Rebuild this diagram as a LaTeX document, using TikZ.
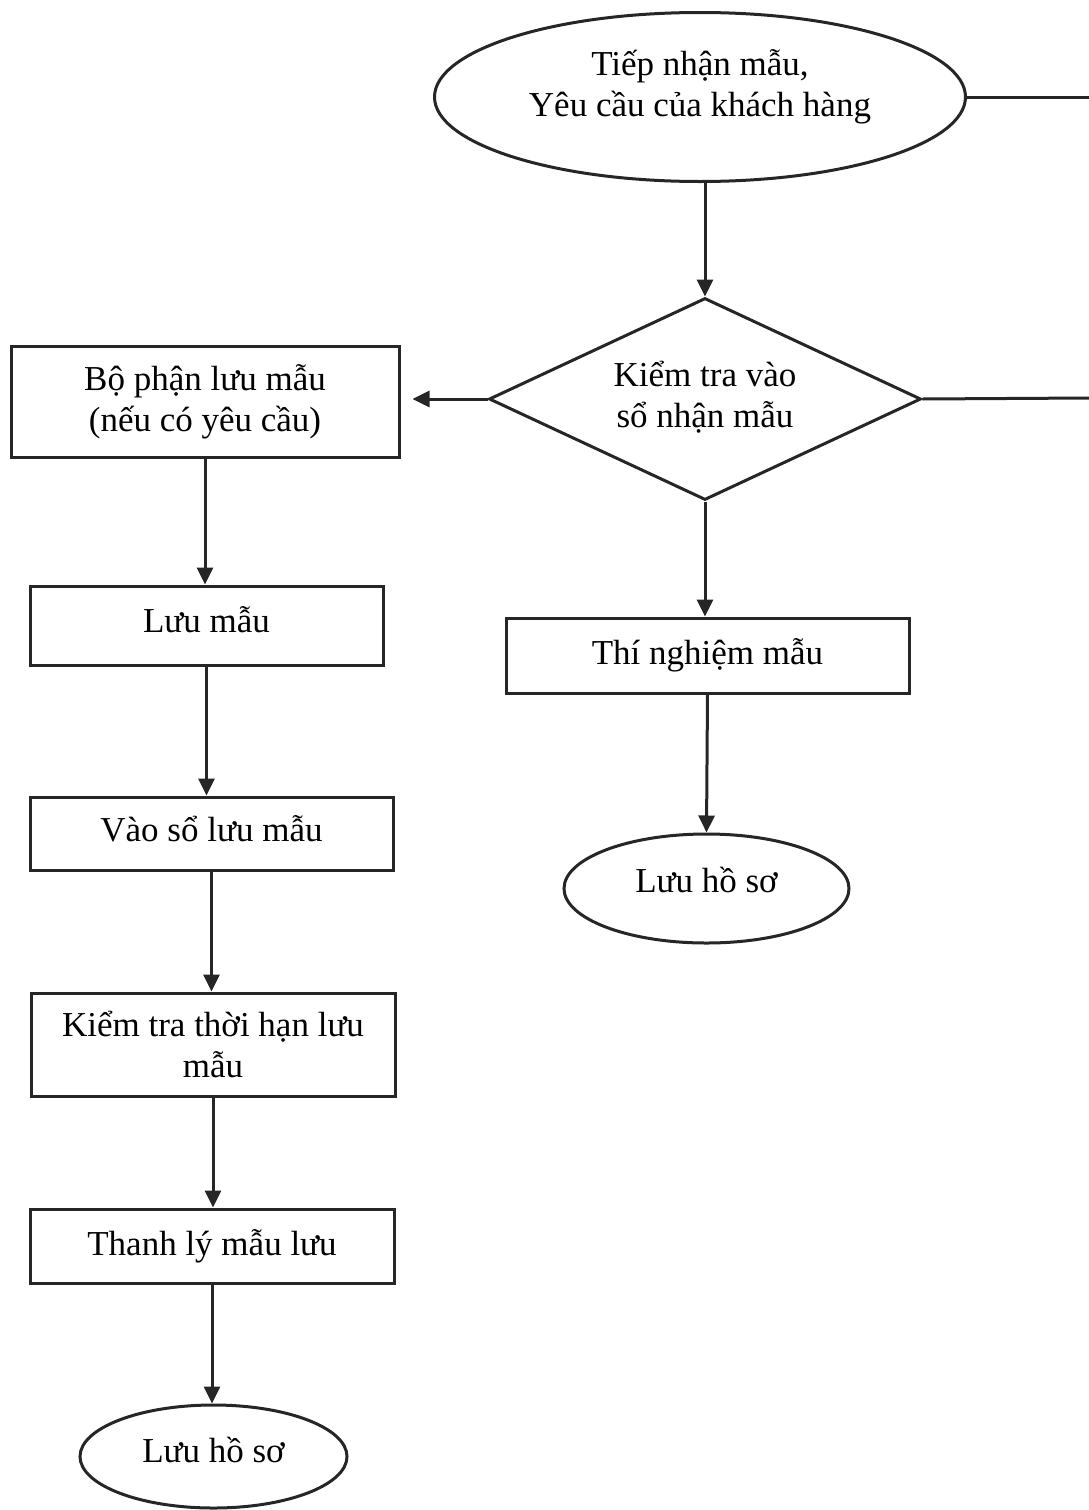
\documentclass[tikz,border=0pt]{standalone}
\usepackage{fontspec}
\setmainfont{Liberation Serif}
\usetikzlibrary{shapes.geometric,arrows.meta}
\begin{document}
\begin{tikzpicture}[x=1pt,y=-1pt,
  every node/.style={font=\fontsize{35}{41}\selectfont, align=center, inner sep=0pt},
  line/.style={line width=3pt, draw=black!85},
  flow/.style={line, -{Triangle[length=17pt,width=16pt]}},
  stepbox/.style={draw=black!85, line width=3pt, rectangle},
  terminal/.style={draw=black!85, line width=3pt, ellipse},
  decision/.style={draw=black!85, line width=3pt, diamond, shape aspect=2.14},
  % caption set a little above the shape centre
  up/.style 2 args={label={[yshift=#1]center:{#2}}}
]
\useasboundingbox (0,0) rectangle (1089,1510);

% right-hand column
\node[terminal, minimum width=531pt, minimum height=169pt,
  up={10pt}{Tiếp nhận mẫu,\\Yêu cầu của khách hàng}] (recv) at (700,97) {};
\node[decision, minimum width=432pt, minimum height=202pt,
  up={2pt}{Kiểm tra vào\\sổ nhận mẫu}] (check) at (705,399) {};
\node[stepbox, minimum width=403pt, minimum height=75pt] (test) at (707.5,655.5)
  {Thí nghiệm mẫu};
\node[terminal, minimum width=285pt, minimum height=109pt,
  up={9pt}{Lưu hồ sơ}] (file1) at (706.5,888.5) {};

% left-hand column
\node[stepbox, minimum width=388pt, minimum height=111pt] (keep) at (205,401.5)
  {Bộ phận lưu mẫu\\(nếu có yêu cầu)};
\node[stepbox, minimum width=353pt, minimum height=79pt,
  up={6pt}{Lưu mẫu}] (store) at (206.5,625.5) {};
\node[stepbox, minimum width=363pt, minimum height=73pt,
  up={5pt}{Vào sổ lưu mẫu}] (log) at (211.5,833.5) {};
\node[stepbox, minimum width=364pt, minimum height=103pt] (expiry) at (213,1044.5)
  {Kiểm tra thời hạn lưu\\mẫu};
\node[stepbox, minimum width=364pt, minimum height=74pt] (dispose) at (212,1246)
  {Thanh lý mẫu lưu};
\node[terminal, minimum width=267pt, minimum height=103pt,
  up={7pt}{Lưu hồ sơ}] (file2) at (213.5,1456.5) {};

% lines leaving the right edge
\coordinate (e1) at (1089,97);
\coordinate (e2) at (1089,398);
\draw[line] (recv.east) -- (e1);
\draw[line] (check.east) -- (e2);

% connectors
\draw[flow] (recv.south -| check.north) -- (check.north);
\draw[flow, shorten >=12pt] (check.west) -- (keep.east |- check.west);
\draw[flow] (check.south) -- (check.south |- test.north);
\draw[flow] (test.south) -- (file1.north);
\draw[flow] (keep.south) -- (keep.south |- store.north);
\draw[flow] (store.south) -- (store.south |- log.north);
\draw[flow] (log.south) -- (log.south |- expiry.north);
\draw[flow] (expiry.south) -- (expiry.south |- dispose.north);
\draw[flow] (dispose.south) -- (dispose.south |- file2.north);
\end{tikzpicture}
\end{document}
